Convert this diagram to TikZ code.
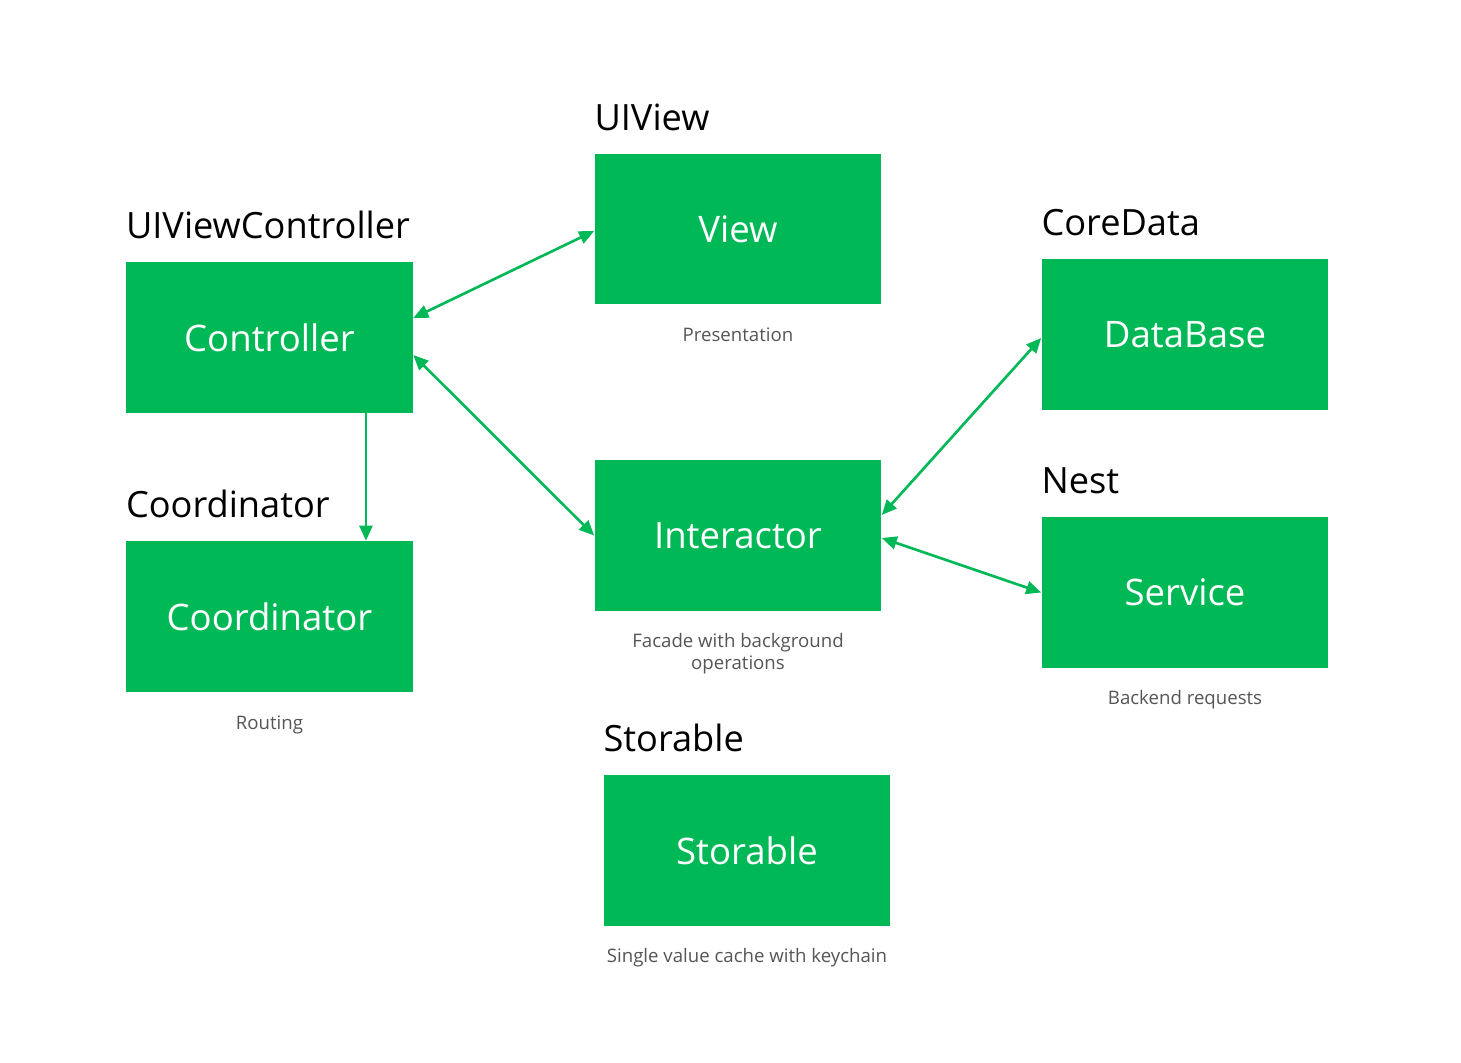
\documentclass[tikz,border=0pt]{standalone}
\usepackage{fontspec}
\setmainfont{Open Sans}
\usetikzlibrary{arrows.meta, positioning}
\definecolor{verdeModulo}{HTML}{00B856}
\definecolor{grisTexto}{HTML}{555555}
\tikzset{
  cajaModulo/.style={
    fill=verdeModulo, draw=none,
    minimum width=5.74cm, minimum height=3.02cm,
    font=\fontsize{20.8}{25}\selectfont, text=white
  },
  titulo/.style={anchor=base west, inner sep=0pt,
    font=\fontsize{20.6}{25}\selectfont, text=black},
  nota/.style={inner sep=0pt, align=center,
    font=\fontsize{10.6}{12.5}\selectfont, text=grisTexto},
  flecha/.style={-{Triangle[length=3mm, width=2.6mm]}, line width=1.5pt, verdeModulo},
  flechaDoble/.style={{Triangle[length=3mm, width=2.6mm]}-{Triangle[length=3mm, width=2.6mm]},
    line width=1.5pt, verdeModulo},
}
\begin{document}
\begin{tikzpicture}[x=0.02cm, y=-0.02cm]
    \useasboundingbox (0,0) rectangle (1461,1062);
    % modulos
    \node[cajaModulo] (ctrl)  at (269.5,337.5) {Controller};
    \node[cajaModulo] (vista) at (738,229)     {View};
    \node[cajaModulo] (base)  at (1185,334.5)  {DataBase};
    \node[cajaModulo] (inter) at (738,535.5)   {Interactor};
    \node[cajaModulo] (serv)  at (1185,592.5)  {Service};
    \node[cajaModulo] (coord) at (269.5,616.5) {Coordinator};
    \node[cajaModulo] (store) at (747,850.5)   {Storable};
    % titulos
    \node[titulo] (tCtrl)  at ([yshift=0.47cm]ctrl.north west)  {UIViewController};
    \node[titulo] (tVista) at ([yshift=0.45cm]vista.north west) {UIView};
    \node[titulo] (tBase)  at ([yshift=0.46cm]base.north west)  {CoreData};
    \node[titulo] (tServ)  at ([yshift=0.46cm]serv.north west)  {Nest};
    \node[titulo] (tCoord) at ([yshift=0.47cm]coord.north west) {Coordinator};
    \node[titulo] (tStore) at ([yshift=0.47cm]store.north west) {Storable};
    % notas
    \node[nota, below=0.46cm of vista] (nVista) {Presentation};
    \node[nota, below=0.46cm of coord] (nCoord) {Routing};
    \node[nota, below=0.44cm of inter] (nInter) {Facade with background\\operations};
    \node[nota, below=0.44cm of serv]  (nServ)  {Backend requests};
    \node[nota, below=0.44cm of store] (nStore) {Single value cache with keychain};
    % conexiones
    \draw[flechaDoble] ([yshift=0.39cm]ctrl.east) -- ([yshift=-0.04cm]vista.west);
    \draw[flechaDoble] ([yshift=-0.35cm]ctrl.east) -- (inter.west);
    \draw[flecha] ([xshift=1.93cm]ctrl.south) -- ([xshift=1.93cm]coord.north);
    \draw[flechaDoble] ([yshift=0.41cm]inter.east) -- ([yshift=-0.07cm]base.west);
    \draw[flechaDoble] ([yshift=-0.05cm]inter.east) -- (serv.west);
\end{tikzpicture}
\end{document}
